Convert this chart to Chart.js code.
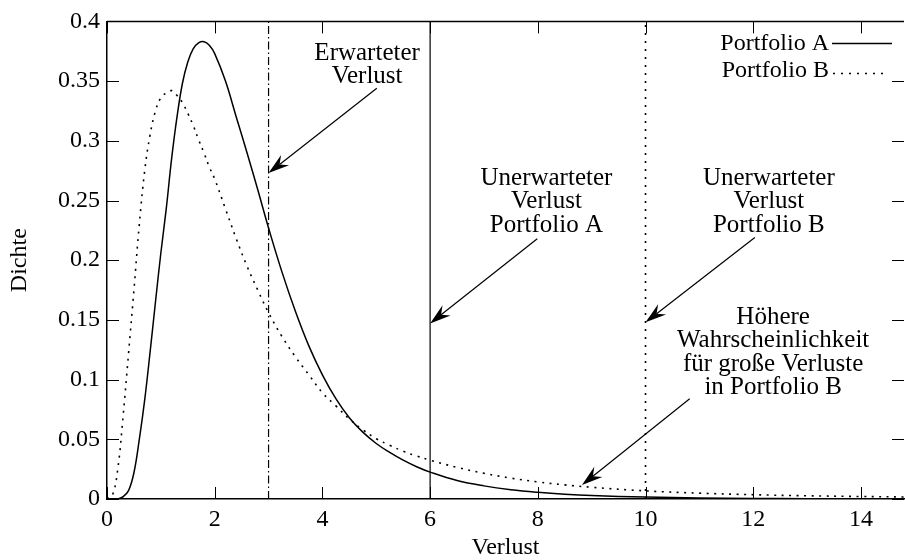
<!DOCTYPE html>
<html>
<head>
<meta charset="utf-8">
<script src="https://cdn.jsdelivr.net/npm/chart.js@4.4.1/dist/chart.umd.min.js"></script>
<style>
  html, body { margin: 0; padding: 0; background: #fff; }
</style>
</head>
<body>
<canvas id="lossChart" width="905" height="560"></canvas>
<script>
// Verlust (loss) grid and read-off densities
const losses = [0, 0.1, 0.2, 0.3, 0.4, 0.5, 0.6, 0.7, 0.8, 0.9, 1.0, 1.1, 1.2, 1.3, 1.4, 1.5, 1.6, 1.7, 1.8, 1.9,
  2.0, 2.2, 2.4, 2.6, 2.8, 3.0, 3.25, 3.5, 3.75, 4.0, 4.25, 4.5, 4.75, 5.0, 5.25, 5.5, 5.75, 6, 6.5, 7, 7.5, 8, 8.5, 9, 10, 11, 12, 13, 14, 14.8];
const densA = [0, 0, 0, 0.002, 0.007, 0.022, 0.050, 0.083, 0.123, 0.165, 0.206, 0.243, 0.285, 0.320, 0.348, 0.366, 0.377, 0.382, 0.383, 0.380,
  0.373, 0.350, 0.320, 0.290, 0.259, 0.227, 0.190, 0.157, 0.128, 0.104, 0.084, 0.068, 0.056, 0.0465, 0.039, 0.0325, 0.027, 0.0225, 0.0155, 0.011, 0.0078, 0.0056, 0.004, 0.0029, 0.0016, 0.0009, 0.0005, 0.0003, 0.0002, 0.0001];
const densB = [0, 0.003, 0.025, 0.070, 0.122, 0.175, 0.230, 0.275, 0.305, 0.325, 0.336, 0.340, 0.342, 0.338, 0.332, 0.323, 0.313, 0.301, 0.290, 0.278,
  0.268, 0.243, 0.218, 0.195, 0.175, 0.156, 0.136, 0.119, 0.104, 0.089, 0.078, 0.067, 0.058, 0.0505, 0.045, 0.040, 0.036, 0.0325, 0.0265, 0.0215, 0.0175, 0.0143, 0.0118, 0.0098, 0.0068, 0.0049, 0.0036, 0.0027, 0.0021, 0.0017];

// vertical markers: expected loss, unexpected loss A, unexpected loss B
const markerX = [3, 6, 10];

const xTicks = [0, 2, 4, 6, 8, 10, 12, 14];
const yTicks = [0, 0.05, 0.1, 0.15, 0.2, 0.25, 0.3, 0.35, 0.4];
const yTickLabels = ['0', '0.05', '0.1', '0.15', '0.2', '0.25', '0.3', '0.35', '0.4'];

const seriesNames = ['Portfolio A', 'Portfolio B'];

// annotation texts, anchored in data units
const notes = [
  { lines: ['Erwarteter', 'Verlust'], at: [4.83, 0.368], tail: [5.01, 0.344], head: [3, 0.273] },
  { lines: ['Unerwarteter', 'Verlust', 'Portfolio A'], at: [8.16, 0.263], tail: [7.99, 0.218], head: [6, 0.147] },
  { lines: ['Unerwarteter', 'Verlust', 'Portfolio B'], at: [12.29, 0.263], tail: [12.03, 0.219], head: [10, 0.148] },
  { lines: ['Höhere', 'Wahrscheinlichkeit', 'für große Verluste', 'in Portfolio B'], at: [12.37, 0.1464], tail: [10.82, 0.084], head: [8.82, 0.0117] }
];

const FONT = '"Liberation Serif", "Times New Roman", serif';
Chart.defaults.font.family = FONT;
Chart.defaults.font.size = 24;
Chart.defaults.color = '#000';

const pts = (ys) => losses.map((x, i) => ({ x: x, y: ys[i] }));
const vline = (x) => [{ x: x, y: 0 }, { x: x, y: 0.4 }];

function drawArrow(ctx, x1, y1, x2, y2) {
  const a = Math.atan2(y2 - y1, x2 - x1);
  const c = Math.cos(a), s = Math.sin(a);
  const len = 21, half = 6.5, notch = 14;
  ctx.beginPath();
  ctx.moveTo(x1, y1);
  ctx.lineTo(x2 - c * notch, y2 - s * notch);
  ctx.stroke();
  const bx = x2 - c * len, by = y2 - s * len;
  ctx.beginPath();
  ctx.moveTo(x2, y2);
  ctx.lineTo(bx - s * half, by + c * half);
  ctx.lineTo(x2 - c * notch, y2 - s * notch);
  ctx.lineTo(bx + s * half, by - c * half);
  ctx.closePath();
  ctx.fill();
}

const decor = {
  id: 'decor',
  afterDraw(chart) {
    const ctx = chart.ctx;
    const area = chart.chartArea;
    const sx = chart.scales.x, sy = chart.scales.y;
    ctx.save();
    ctx.strokeStyle = '#000';
    ctx.fillStyle = '#000';

    // top border + inward ticks on all four sides
    ctx.lineWidth = 1.5;
    ctx.beginPath();
    ctx.moveTo(area.left, area.top);
    ctx.lineTo(area.right, area.top);
    ctx.stroke();
    ctx.lineWidth = 1;
    ctx.beginPath();
    xTicks.forEach(v => {
      const px = Math.round(sx.getPixelForValue(v)) + 0.5;
      ctx.moveTo(px, area.bottom); ctx.lineTo(px, area.bottom - 12);
      ctx.moveTo(px, area.top); ctx.lineTo(px, area.top + 12);
    });
    yTicks.forEach(v => {
      const py = Math.round(sy.getPixelForValue(v)) + 0.5;
      ctx.moveTo(area.left, py); ctx.lineTo(area.left + 12, py);
      ctx.moveTo(area.right, py); ctx.lineTo(area.right - 12, py);
    });
    ctx.stroke();

    // legend, gnuplot style: text then sample
    ctx.font = '24px ' + FONT;
    ctx.textAlign = 'right';
    ctx.textBaseline = 'alphabetic';
    const lx = area.right - 75;
    ctx.fillText(seriesNames[0], lx, area.top + 29);
    ctx.fillText(seriesNames[1], lx, area.top + 56);
    ctx.lineWidth = 1.5;
    ctx.beginPath();
    ctx.moveTo(lx + 3, area.top + 22); ctx.lineTo(lx + 63, area.top + 22);
    ctx.stroke();
    ctx.setLineDash([2, 6]);
    ctx.beginPath();
    ctx.moveTo(lx + 4, area.top + 52); ctx.lineTo(lx + 58, area.top + 52);
    ctx.stroke();
    ctx.setLineDash([]);

    // annotations with arrows
    ctx.font = '25px ' + FONT;
    ctx.textAlign = 'center';
    ctx.lineWidth = 1.2;
    notes.forEach(n => {
      const cx = sx.getPixelForValue(n.at[0]);
      const cy = sy.getPixelForValue(n.at[1]);
      n.lines.forEach((t, i) => ctx.fillText(t, cx, cy + i * 23.3));
      drawArrow(ctx,
        sx.getPixelForValue(n.tail[0]), sy.getPixelForValue(n.tail[1]),
        sx.getPixelForValue(n.head[0]), sy.getPixelForValue(n.head[1]));
    });
    ctx.restore();
  }
};

new Chart(document.getElementById('lossChart'), {
  type: 'scatter',
  data: {
    datasets: [
      { label: seriesNames[0], data: pts(densA), showLine: true, borderColor: '#000', borderWidth: 1.5,
        pointRadius: 0, tension: 0.4 },
      { label: seriesNames[1], data: pts(densB), showLine: true, borderColor: '#000', borderWidth: 1.6,
        borderDash: [2, 5.5], pointRadius: 0, tension: 0.4 },
      { label: 'EL', data: vline(markerX[0]), showLine: true, borderColor: '#000', borderWidth: 1.2,
        borderDash: [8, 3, 1.5, 3], pointRadius: 0 },
      { label: 'UL A', data: vline(markerX[1]), showLine: true, borderColor: '#000', borderWidth: 1.2, pointRadius: 0 },
      { label: 'UL B', data: vline(markerX[2]), showLine: true, borderColor: '#000', borderWidth: 1.6,
        borderDash: [2, 6], pointRadius: 0 }
    ]
  },
  options: {
    responsive: false,
    animation: false,
    devicePixelRatio: 1,
    layout: { padding: { top: 19, right: 1, left: 0, bottom: 0 } },
    plugins: { legend: { display: false }, tooltip: { enabled: false } },
    scales: {
      x: {
        type: 'linear', min: 0, max: 14.8,
        afterBuildTicks: s => { s.ticks = xTicks.map(v => ({ value: v })); },
        afterFit: s => { s.height = 61; },
        ticks: { padding: 6, maxRotation: 0, autoSkip: false, callback: v => String(v) },
        grid: { drawOnChartArea: false, drawTicks: false },
        border: { display: true, color: '#000', width: 1.5 },
        title: { display: true, text: 'Verlust', font: { size: 24, lineHeight: 1 }, padding: { top: 0, bottom: 0 } }
      },
      y: {
        type: 'linear', min: 0, max: 0.4,
        afterBuildTicks: s => { s.ticks = yTicks.map(v => ({ value: v })); },
        afterFit: s => { s.width = 107; },
        ticks: { padding: 7, autoSkip: false, callback: (v, i) => yTickLabels[i] },
        grid: { drawOnChartArea: false, drawTicks: false },
        border: { display: true, color: '#000', width: 1.5 },
        title: { display: true, text: 'Dichte', font: { size: 24, lineHeight: 1 }, padding: { top: 8, bottom: 0 } }
      }
    }
  },
  plugins: [decor]
});
</script>
</body>
</html>
